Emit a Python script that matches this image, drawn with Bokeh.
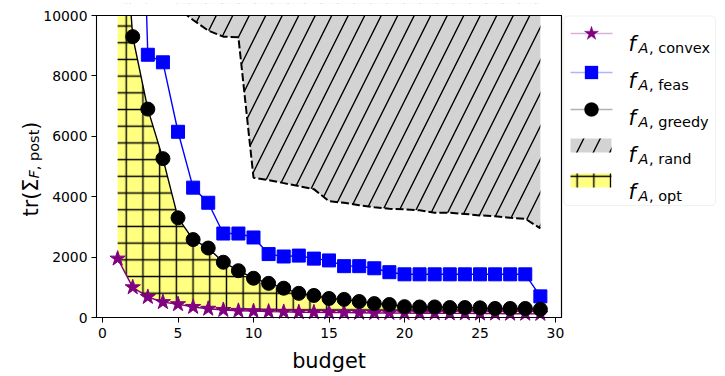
import math
from bokeh.plotting import figure
from bokeh.models import Range1d, FixedTicker, BoxAnnotation, PolyAnnotation, Label, LinearAxis
from bokeh.embed import file_html
from bokeh.resources import INLINE

# ---------------- data ----------------
budget = list(range(1, 30))
convex = [1950, 1000, 680, 510, 440, 350, 290, 250, 220, 210, 195, 185, 175, 170, 165,
          160, 155, 150, 150, 145, 140, 140, 135, 135, 130, 130, 125, 125, 120]
feas = [60000, 25000, 8700, 8450, 6150, 4300, 3800, 2780, 2780, 2650, 2100, 2020, 2050, 1950, 1890,
        1700, 1700, 1630, 1500, 1430, 1430, 1430, 1430, 1430, 1430, 1430, 1430, 1430, 700]
greedy = [16000, 9300, 6900, 5260, 3300, 2580, 2300, 1830, 1550, 1300, 1130, 970, 800, 730, 630,
          600, 530, 460, 430, 360, 350, 350, 330, 330, 320, 300, 300, 300, 270]
opt_upper = [16000, 9300, 6900, 5260, 3300, 2500, 2200, 1750, 1480, 1250, 1080, 920, 770, 690, 600,
             560, 500, 440, 400, 340, 330, 330, 310, 310, 300, 280, 280, 280, 250]
rand_lower = [35000, 20000, 14000, 11500, 10250, 9850, 9500, 9300, 9280, 4630, 4550, 4450, 4350, 4250, 3850,
              3800, 3720, 3650, 3600, 3580, 3550, 3470, 3470, 3430, 3380, 3350, 3300, 3270, 2950]
rand_upper = [60000] * 29

x_ticks = [0, 5, 10, 15, 20, 25, 30]
y_ticks = [0, 2000, 4000, 6000, 8000, 10000]
legend_subs = [", convex", ", feas", ", greedy", ", rand", ", opt"]

FONT = "DejaVu Sans"
PURPLE = "#800080"
GRAY = "#d3d3d3"
YELLOW = "#ffff80"

# ---------------- geometry (page pixels) ----------------
W, H = 725, 376
TOP = 3                                    # frame starts 3 px below the canvas top
FL, FR, FT, FB = 96, 561, 15, 317          # plot-area edges in page pixels
X0, X1, Y0, Y1 = -0.4, 30.4, 0, 10000


def dx(px):
    return X0 + (px - FL) * (X1 - X0) / (FR - FL)


def dy(py):
    return Y0 + (FB - py) * (Y1 - Y0) / (FB - FT)


# the frame covers (almost) the whole canvas so that texts outside the plot area are not clipped
p = figure(width=W, height=H, output_backend="svg", toolbar_location=None, title=None,
           x_range=Range1d(dx(0), dx(W)), y_range=Range1d(dy(H), dy(TOP)),
           x_axis_type=None, y_axis_type=None, min_border=0, min_border_top=TOP)
p.background_fill_color = "white"
p.border_fill_color = "white"
p.outline_line_color = None
p.grid.visible = False


def style_axis(ax):
    ax.axis_line_color = "black"
    ax.axis_line_width = 1
    ax.major_tick_line_color = "black"
    ax.major_tick_out = 5
    ax.major_tick_in = 0
    ax.minor_tick_line_color = None
    ax.major_label_text_font = FONT
    ax.major_label_text_font_size = "13.9px"
    ax.major_label_text_color = "black"


xaxis = LinearAxis(fixed_location=Y0, bounds=(X0, X1), ticker=FixedTicker(ticks=x_ticks))
style_axis(xaxis)
xaxis.major_label_standoff = 5
yaxis = LinearAxis(fixed_location=X0, bounds=(Y0, Y1), ticker=FixedTicker(ticks=y_ticks))
style_axis(yaxis)
yaxis.major_label_standoff = 4

# ---------------- data marks ----------------
p.varea(x=budget, y1=rand_lower, y2=rand_upper, fill_color=GRAY,
        hatch_pattern="/", hatch_scale=33, hatch_color="black", hatch_weight=1.4)
p.varea(x=budget, y1=convex, y2=opt_upper, fill_color=YELLOW,
        hatch_pattern="+", hatch_scale=16.7, hatch_color="black", hatch_weight=1.4)
p.line(budget, rand_lower, line_color="black", line_width=2, line_dash="8 3")

p.line(budget, convex, line_color=PURPLE, line_width=1.4)
p.scatter(budget, convex, marker="star", size=16, color=PURPLE)
p.line(budget, feas, line_color="blue", line_width=1.4)
p.scatter(budget, feas, marker="square", size=13, color="blue")
p.line(budget, greedy, line_color="black", line_width=1.4)
p.scatter(budget, greedy, marker="circle", size=14, color="black")

# white mask above the plot area (acts as the clip at y = 10000)
p.quad(left=[dx(-50)], right=[dx(W + 50)], bottom=[dy(FT - 0.5)], top=[dy(-60)],
       fill_color="white", line_color=None)

# top and right spines (drawn after the mask)
p.segment(x0=[X0, X1], y0=[Y1, Y0], x1=[X1, X1], y1=[Y1, Y1], line_color="black", line_width=1.1)

p.add_layout(xaxis, "below")
p.add_layout(yaxis, "left")

# second mask (annotation level) for the strip above the plot, right of the y tick labels
p.add_layout(BoxAnnotation(left=dx(FL - 2), right=dx(W + 5), bottom=dy(FT - 1), top=dy(-5),
                           fill_color="white", fill_alpha=1, line_alpha=0))


def poly(pts, **kw):
    p.add_layout(PolyAnnotation(xs=[dx(a) for a, _ in pts], ys=[dy(b) for _, b in pts], **kw))


# plot-area frame (all four spines)
poly([(FL, FB), (FR, FB), (FR, FT), (FL, FT)], fill_alpha=0, line_color="black",
     line_width=1.1, line_alpha=1)


# ---------------- text helpers ----------------
def label(px, py, text, size, style="normal", align="left", angle=0.0):
    p.add_layout(Label(x=dx(px), y=dy(py), text=text, text_font=FONT, text_font_size=size,
                       text_font_style=style, text_align=align, text_baseline="alphabetic",
                       text_color="black", angle=angle))


# x label
label((FL + FR) / 2, 360, "budget", "20.8px", align="center")

# y label  tr(Σ_{F, post})
A = math.pi / 2
label(30, 216, "tr(Σ", "20.8px", angle=A)
label(33, 178, "F", "14.5px", style="italic", angle=A)
label(33, 169.7, ", post", "14.5px", angle=A)
label(30, 129.2, ")", "20.8px", angle=A)

# ---------------- legend ----------------
p.add_layout(BoxAnnotation(left=dx(563.5), right=dx(715), top=dy(15.5), bottom=dy(205),
                           fill_color="white", fill_alpha=0.8, line_color="#cccccc",
                           line_width=1, border_radius=4))


def hline(py, color):
    poly([(570, py), (612, py)], line_color=color, line_width=1.4, fill_alpha=0)


def star(cx, cy, r, color):
    pts = []
    for k in range(10):
        rr = r if k % 2 == 0 else r * 0.382
        a = math.pi / 2 + k * math.pi / 5
        pts.append((cx + rr * math.cos(a), cy - rr * math.sin(a)))
    poly(pts, fill_color=color, fill_alpha=1, line_color=color, line_width=1)


def square(cx, cy, s, color):
    h = s / 2
    poly([(cx - h, cy - h), (cx + h, cy - h), (cx + h, cy + h), (cx - h, cy + h)],
         fill_color=color, fill_alpha=1, line_color=color, line_width=1)


def circle(cx, cy, r, color):
    pts = [(cx + r * math.cos(2 * math.pi * k / 32), cy + r * math.sin(2 * math.pi * k / 32))
           for k in range(32)]
    poly(pts, fill_color=color, fill_alpha=1, line_color=color, line_width=1)


hline(33, PURPLE)
star(591, 33, 7.5, PURPLE)
hline(72, "blue")
square(591, 72, 13, "blue")
hline(109, "black")
circle(591, 109, 7, "black")
poly([(570, 138), (611, 138), (611, 152), (570, 152)], fill_color=GRAY, fill_alpha=1,
     line_color=None, hatch_pattern="/", hatch_scale=33, hatch_color="black", hatch_weight=1.4)
poly([(570, 173), (611, 173), (611, 187), (570, 187)], fill_color=YELLOW, fill_alpha=1,
     line_color=None, hatch_pattern="+", hatch_scale=16.7, hatch_color="black", hatch_weight=1.4)

tops = [27, 64, 101, 138, 175]
for t, sub in zip(tops, legend_subs):
    label(628, t + 16, "f", "20.8px", style="italic")
    label(638, t + 20, "A", "14.5px", style="italic")
    label(648.5, t + 20, sub, "14.5px")

open("out.html", "w").write(file_html(p, INLINE))
